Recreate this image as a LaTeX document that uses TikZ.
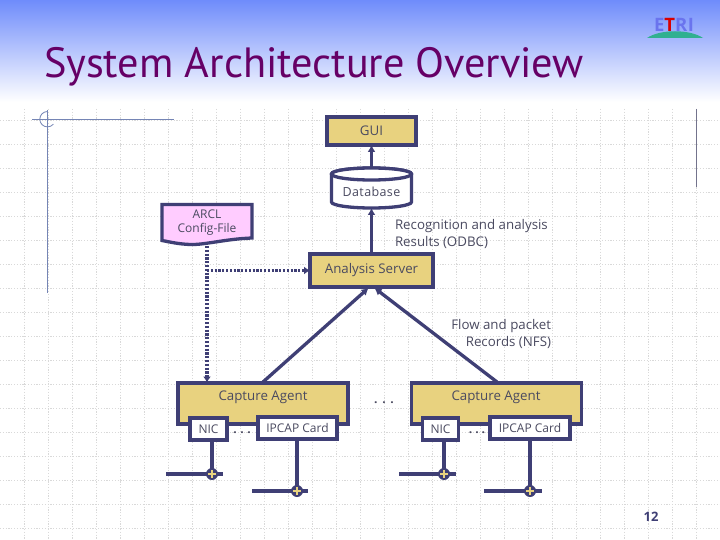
\documentclass[tikz,border=0pt]{standalone}
\usepackage{fontspec}
\setmainfont{Open Sans}
\newfontfamily\titlefont{PT Sans}
\usetikzlibrary{arrows.meta,calc}
\definecolor{ink}{HTML}{3F3F75}
\definecolor{sand}{HTML}{E8D27F}
\definecolor{pinkish}{HTML}{FFCCFF}
\definecolor{txt}{HTML}{4A4A60}
\definecolor{headblue}{HTML}{6F8CFB}
\definecolor{orn}{HTML}{7585B5}
\definecolor{logoblue}{HTML}{6A74EE}
\definecolor{logogreen}{HTML}{30B090}
\tikzset{
 x=1pt,y=-1pt,
 gridline/.style={draw=black!15,line width=0.7pt,dash pattern=on 1.2pt off 1.6pt},
 orbit/.style={draw=orn,line width=1pt},
 block/.style={draw=ink,line width=3.3pt,inner sep=0pt,outer sep=0pt,fill=sand,font=\fontsize{13.3}{15}\selectfont,text=txt},
 cardbox/.style={block,fill=white,font=\fontsize{12}{14}\selectfont},
 lbl/.style={inner sep=0pt,outer sep=0pt,font=\fontsize{13.3}{17}\selectfont,text=txt},
 dotlbl/.style={lbl,font=\bfseries\fontsize{12}{14}\selectfont},
 conn/.style={draw=ink,line width=3.3pt},
 tip/.style={-{Latex[length=7pt,width=8pt]}},
 dotline/.style={conn,dash pattern=on 2.2pt off 1.6pt},
 junction/.style={circle,fill=ink,minimum size=12pt,inner sep=0pt,outer sep=0pt},
}
\begin{document}
\begin{tikzpicture}
\useasboundingbox (0,0) rectangle (720,540);
\fill[white] (0,0) rectangle (720,540);
\shade[top color=headblue,bottom color=white] (0,0) rectangle (720,102);
% grid
\foreach \g in {24,48,...,720} \draw[gridline] (\g,109) -- (\g,540);
\foreach \g in {120,144,...,528} \draw[gridline] (0,\g) -- (720,\g);
% ornaments
\draw[orbit] (32,119.5) -- (174,119.5);
\draw[orbit] (47.5,110) -- (47.5,293);
\draw[orbit,line width=0.8pt] (47.5,111.5) arc[start angle=-90,end angle=-320,radius=7.7,y=-1pt];
\draw[orbit,draw=gray!90!blue] (696,109) -- (696,187);
% title and logo
\node[lbl,anchor=base west,font=\titlefont\fontsize{42.3}{44}\selectfont,text={rgb,255:red,102;green,0;blue,102}] (title) at (44,78) {System Architecture Overview};
\fill[logogreen] (647,38) .. controls (660,29) and (690,29) .. (703,38) -- cycle;
\node[lbl,anchor=base,font=\bfseries\fontsize{18.5}{18}\selectfont] (logo) at (674,32) {\addfontfeature{LetterSpace=3}\textcolor{logoblue}{E}\textcolor{red!85!black}{T}\textcolor{logoblue}{RI}};
% upper blocks
\node[block,minimum width=89pt,minimum height=28pt] (gui) at (371.5,131) {\raisebox{-2pt}{GUI}};
\node[inner sep=0pt,outer sep=0pt,minimum width=80pt,minimum height=40pt] (db) at (371.5,188) {};
\draw[draw=ink,line width=3.3pt,fill=white] (db.north west) ++(0,6) arc[start angle=180,end angle=360,x radius=40,y radius=6] -- ++(0,28) arc[start angle=0,end angle=180,x radius=40,y radius=6] -- cycle;
\draw[draw=ink,line width=3.3pt,fill=white] (db.north west) ++(0,6) arc[start angle=180,end angle=0,x radius=40,y radius=6] arc[start angle=0,end angle=-180,x radius=40,y radius=6] -- cycle;
\node[lbl,font=\fontsize{12.5}{14}\selectfont,text=txt] (dbtext) at (371.5,192) {\addfontfeature{LetterSpace=3}Database};
\node[inner sep=0pt,outer sep=0pt,minimum width=90pt,minimum height=41pt] (arcl) at (207,224) {};
\draw[draw=ink,line width=3.3pt,fill=pinkish] (162,204.5) -- (252,204.5) -- (252,238) .. controls (225,239) and (205,245) .. (190,244.5) .. controls (178,244) and (170,242) .. (162,240.5) -- cycle;
\node[lbl,align=center,font=\fontsize{12}{14}\selectfont] (arcltext) at (207,223) {ARCL\\Config-File};
\node[block,minimum width=123pt,minimum height=33pt] (as) at (371.5,270.5) {\raisebox{-3.5pt}{Analysis Server}};
\node[lbl,align=left,anchor=north west] (rec) at (395,219) {Recognition and analysis\\Results (ODBC)};
\node[lbl,align=right,anchor=north east] (flow) at (551,319) {Flow and packet\\Records (NFS)};
% capture agents
\node[block,minimum width=170pt,minimum height=41pt] (cap1) at (263,403.5) {};
\node[block,minimum width=170pt,minimum height=41pt] (cap2) at (496.5,403.5) {};
\node[lbl] (cap1t) at (263,397) {Capture Agent};
\node[lbl] (cap2t) at (496,397) {Capture Agent};
\node[cardbox,minimum width=37pt,minimum height=22pt] (nic1) at (208.5,429) {NIC};
\node[cardbox,minimum width=79pt,minimum height=22pt] (ip1) at (297.5,428) {IPCAP Card};
\node[cardbox,minimum width=36pt,minimum height=22pt] (nic2) at (440.5,429) {NIC};
\node[cardbox,minimum width=80pt,minimum height=22pt] (ip2) at (530,428) {IPCAP Card};
\node[dotlbl] (dots1) at (242,433) {\addfontfeature{LetterSpace=30}...};
\node[dotlbl] (dots2) at (384,403) {\addfontfeature{LetterSpace=40}...};
\node[dotlbl] (dots3) at (477,433) {\addfontfeature{LetterSpace=25}...};
% tap lines
\foreach \n/\x/\y/\a/\b in {nic1/212/474/166/223,ip1/297/491/252/308,nic2/444/474/399/456,ip2/530/491/484/542}{
  \coordinate (j\n) at (\x,\y);
  \coordinate (l\n) at (\a,\y);
  \coordinate (r\n) at (\b,\y);
  \draw[conn] (\n.south -| j\n) -- (j\n);
  \draw[conn] (l\n) -- (r\n);
  \node[junction] (p\n) at (j\n) {};
  \draw[sand,line width=2pt] ($(j\n)+(-4,0)$) -- ($(j\n)+(4,0)$) ($(j\n)+(0,-4)$) -- ($(j\n)+(0,4)$);
}
% connectors
\draw[conn,tip] (db.north) -- (gui.south);
\draw[conn,tip] (as.north) -- (db.south);
\coordinate (c1top) at (263,382);
\coordinate (c2top) at (497,382);
\coordinate (asl) at (368.5,288);
\coordinate (asr) at (374.5,288);
\draw[conn,tip] (c1top) -- (asl);
\draw[conn,tip] (c2top) -- (asr);
\coordinate (dottop) at (207,246);
\coordinate (dotbot) at (207,382.5);
\coordinate (dotmid) at (207,270.5);
\draw[dotline,-{Latex[length=6pt,width=8pt]}] (dottop) -- (dotbot);
\draw[dotline,-{Latex[length=6pt,width=8pt]}] (dotmid) -- (as.west);
\node[lbl,font=\bfseries\fontsize{13}{14}\selectfont,text=ink] (page) at (651,517) {12};
\end{tikzpicture}
\end{document}
